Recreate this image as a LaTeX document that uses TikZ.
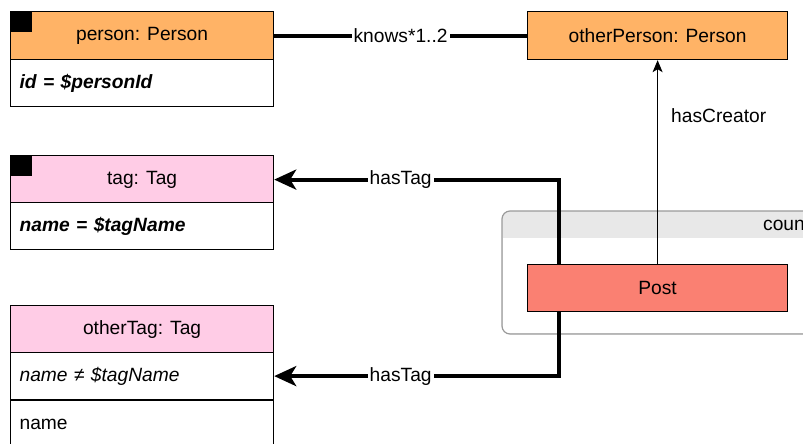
\documentclass[tikz,border=0pt]{standalone}
\usepackage{fontspec}
\setmainfont{Liberation Sans}
\usetikzlibrary{arrows.meta,calc}
\definecolor{personfill}{HTML}{FFB366}
\definecolor{tagfill}{HTML}{FFCCE6}
\definecolor{postfill}{HTML}{FA8072}
\definecolor{bandgray}{HTML}{E8E8E8}
\definecolor{framegray}{HTML}{9A9A9A}
\tikzset{
  box/.style={draw=black, line width=1.2pt, rectangle, minimum width=263pt, inner sep=0pt, anchor=north west, font=\fontsize{19.2}{23}\selectfont},
  hdr/.style={box, minimum height=48pt},
  rowbox/.style={box, minimum height=47pt, fill=white, text width=245pt, align=left},
  marker/.style={fill=black, draw=none, minimum width=22pt, minimum height=21pt, inner sep=0pt, anchor=north west},
  thickedge/.style={line width=4pt, draw=black},
  thinedge/.style={line width=1.2pt, draw=black},
  elabel/.style={fill=white, inner sep=2pt, font=\fontsize{19.2}{23}\selectfont},
  bigtip/.style={-{Stealth[length=22pt, width=20pt, inset=6pt]}},
  smalltip/.style={-{Stealth[length=12pt, width=10pt, inset=3pt]}},
}
\begin{document}
\begin{tikzpicture}[x=1pt, y=-1pt]
\useasboundingbox (0,0) rectangle (803,444);
\clip (0,0) rectangle (803,444);
\fill[white] (0,0) rectangle (803,444);

% container
\begin{scope}
  \fill[bandgray, rounded corners=8pt] (502,211) rectangle (830,334);
  \fill[white] (502.6,238) rectangle (829,333.4);
  \draw[framegray, line width=1.2pt, rounded corners=8pt] (502,211) rectangle (830,334);
\end{scope}
\node[anchor=west, font=\fontsize{19.2}{23}\selectfont, inner sep=0pt] (ctitle) at (763,225) {coun};

% person
\node[hdr, fill=personfill] (person) at (10,11) {person: Person};
\node[rowbox] (personid) at (10,59) {\bfseries\itshape id = \$personId};
\node[marker] (pmark) at (10,11) {};

% otherPerson
\node[hdr, minimum width=260pt, fill=personfill] (other) at (527,11) {otherPerson: Person};

% tag
\node[hdr, fill=tagfill] (tag) at (10,155) {tag: Tag};
\node[rowbox] (tagname) at (10,202) {\bfseries\itshape name = \$tagName};
\node[marker] (tmark) at (10,155) {};

% otherTag
\node[hdr, fill=tagfill] (otag) at (10,305) {otherTag: Tag};
\node[rowbox] (otagcond) at (10,352) {\itshape name ≠ \$tagName};
\node[rowbox] (otagname) at (10,400) {name};

% edges
\draw[thickedge] (person.east) -- node[elabel, pos=0.5] {knows*1..2} (other.west);
\coordinate (pt1) at (559,264);
\coordinate (pt2) at (559,311);
\draw[thickedge, bigtip] (pt1) |- node[elabel, pos=0.778] {hasTag} (tag.east);
\draw[thickedge, bigtip] (pt2) |- node[elabel, pos=0.778] {hasTag} (otagcond.east);

% post
\node[box, minimum width=260pt, minimum height=47pt, fill=postfill] (post) at (527,264) {Post};
\draw[thinedge, smalltip] (post.north) -- (other.south);
\node[anchor=west, font=\fontsize{19.2}{23}\selectfont, inner sep=0pt] (hclabel) at (671,116) {hasCreator};
\end{tikzpicture}
\end{document}
